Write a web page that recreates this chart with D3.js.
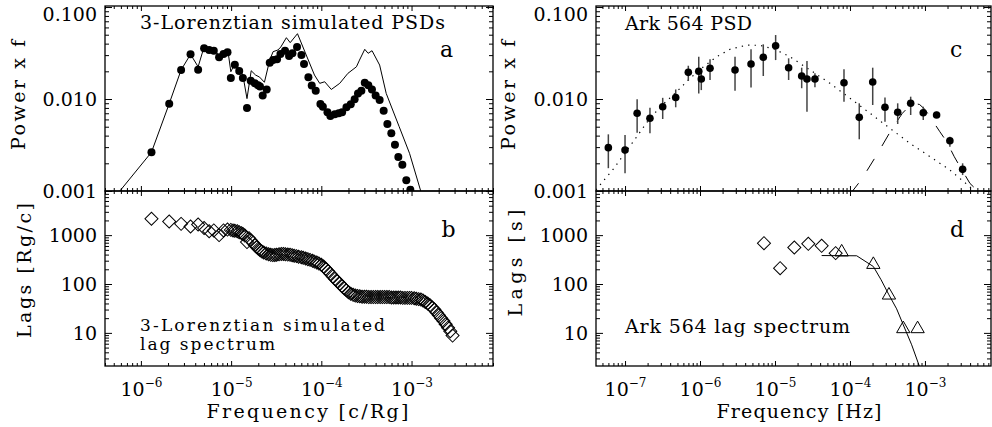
<!DOCTYPE html>
<html>
<head>
<meta charset="utf-8">
<script src="https://cdn.jsdelivr.net/npm/d3@7"></script>
<style>
  body { margin: 0; background: #fff; }
  svg { display: block; }
</style>
</head>
<body>
<svg id="chart" width="992" height="427"></svg>
<script>
// panel a: simulated PSD (dots) and second PSD (thin line)
const simFreq = [1.31e-6, 2.06e-6, 2.79e-6, 3.55e-6, 4.31e-6, 5.02e-6, 5.71e-6, 6.43e-6, 7.36e-6, 8.24e-6,
  9.12e-6, 9.93e-6, 1.10e-5, 1.23e-5, 1.35e-5, 1.50e-5, 1.65e-5, 1.83e-5, 1.99e-5, 2.09e-5,
  2.24e-5, 2.48e-5, 2.68e-5, 2.92e-5, 3.23e-5, 3.52e-5, 3.96e-5, 4.39e-5, 4.78e-5, 5.38e-5,
  6.02e-5, 6.43e-5, 7.19e-5, 7.83e-5, 8.67e-5, 9.77e-5, 1.04e-4, 1.17e-4, 1.26e-4, 1.41e-4,
  1.56e-4, 1.70e-4, 1.90e-4, 2.12e-4, 2.34e-4, 2.55e-4, 2.78e-4, 3.03e-4, 3.32e-4, 3.64e-4,
  4.00e-4, 4.43e-4, 4.91e-4, 5.40e-4, 5.97e-4, 6.55e-4, 7.14e-4, 7.91e-4, 8.75e-4, 9.70e-4];
const simPsd = [0.00264, 0.0089, 0.0207, 0.0306, 0.0208, 0.0356, 0.0341, 0.0335, 0.0284, 0.0308,
  0.0322, 0.0169, 0.0236, 0.0201, 0.0169, 0.00798, 0.0158, 0.0148, 0.0141, 0.0137,
  0.0109, 0.0127, 0.0248, 0.0265, 0.0270, 0.0308, 0.0335, 0.0293, 0.0314, 0.0367,
  0.0301, 0.0240, 0.0172, 0.0140, 0.0123, 0.00883, 0.00825, 0.00717, 0.00653, 0.00682,
  0.00700, 0.00717, 0.00813, 0.00876, 0.00993, 0.0115, 0.0123, 0.0150, 0.0141, 0.0127,
  0.0109, 0.00975, 0.00746, 0.00535, 0.00424, 0.00318, 0.00234, 0.00193, 0.00131, 0.00103];
const simLineFreq = [5.6e-7, 1.31e-6, 2.06e-6, 2.79e-6, 3.55e-6, 4.31e-6, 5.02e-6, 5.71e-6, 6.43e-6, 7.36e-6,
  8.24e-6, 9.2e-6, 9.93e-6, 1.10e-5, 1.23e-5, 1.35e-5, 1.50e-5, 1.67e-5, 1.87e-5, 2.07e-5,
  2.34e-5, 2.68e-5, 2.92e-5, 3.3e-5, 3.55e-5, 4.1e-5, 4.52e-5, 5.44e-5, 6.8e-5, 8.4e-5,
  9.6e-5, 1.09e-4, 1.29e-4, 1.60e-4, 1.97e-4, 2.45e-4, 2.65e-4, 3.03e-4, 3.3e-4, 3.65e-4,
  4.43e-4, 5.24e-4, 7.3e-4, 9.5e-4, 1.28e-3];
const simLinePsd = [0.00095, 0.00264, 0.0089, 0.0207, 0.0306, 0.0224, 0.037, 0.0341, 0.0335, 0.0301,
  0.032, 0.034, 0.0198, 0.0244, 0.0212, 0.0182, 0.0101, 0.0203, 0.0182, 0.0173,
  0.0152, 0.0265, 0.0327, 0.0341, 0.0367, 0.0464, 0.041, 0.0513, 0.0301, 0.0182,
  0.0148, 0.0154, 0.0127, 0.0148, 0.019, 0.0224, 0.0265, 0.0347, 0.0314, 0.0335,
  0.0234, 0.0115, 0.005, 0.00257, 0.00096];

// panel b: simulated lag spectrum
const simLagFreq = [1.31e-6, 2.06e-6, 2.79e-6, 3.55e-6, 4.31e-6, 5.02e-6, 5.71e-6, 6.43e-6, 7.36e-6, 8.24e-6,
  9.12e-6, 9.93e-6, 1.05e-5, 1.10e-5, 1.17e-5, 1.23e-5, 1.30e-5, 1.35e-5, 1.42e-5, 1.50e-5,
  1.58e-5, 1.65e-5, 1.75e-5, 1.83e-5, 1.92e-5, 2.0e-5, 2.1e-5, 2.2e-5, 2.3e-5, 2.45e-5,
  2.6e-5, 2.75e-5, 2.9e-5, 3.05e-5, 3.2e-5, 3.4e-5, 3.6e-5, 3.8e-5, 4.0e-5, 4.25e-5,
  4.5e-5, 4.75e-5, 5.0e-5, 5.3e-5, 5.6e-5, 6.0e-5, 6.3e-5, 6.7e-5, 7.1e-5, 7.5e-5,
  8.0e-5, 8.4e-5, 8.9e-5, 9.4e-5, 1.0e-4, 1.06e-4, 1.12e-4, 1.19e-4, 1.26e-4, 1.34e-4,
  1.42e-4, 1.5e-4, 1.6e-4, 1.7e-4, 1.8e-4, 1.9e-4, 2.0e-4, 2.12e-4, 2.25e-4, 2.38e-4,
  2.52e-4, 2.67e-4, 2.83e-4, 3.0e-4, 3.17e-4, 3.36e-4, 3.56e-4, 3.77e-4, 4.0e-4, 4.23e-4,
  4.49e-4, 4.75e-4, 5.03e-4, 5.33e-4, 5.65e-4, 5.99e-4, 6.34e-4, 6.72e-4, 7.12e-4, 7.54e-4,
  7.99e-4, 8.46e-4, 8.97e-4, 9.5e-4, 1.0e-3, 1.07e-3, 1.13e-3, 1.2e-3, 1.27e-3, 1.34e-3,
  1.42e-3, 1.51e-3, 1.6e-3, 1.69e-3, 1.79e-3, 1.9e-3, 2.01e-3, 2.13e-3, 2.26e-3, 2.39e-3,
  2.54e-3, 2.69e-3, 2.85e-3];
const simLag = [2160, 1900, 1700, 1500, 1650, 1400, 1200, 1250, 1000, 1250,
  1300, 1280, 1250, 1230, 1200, 1150, 1100, 1050, 980, 720,
  860, 790, 700, 630, 570, 530, 490, 460, 440, 420,
  405, 395, 390, 392, 398, 405, 410, 410, 405, 400,
  395, 388, 380, 372, 362, 352, 343, 333, 322, 312,
  298, 287, 275, 262, 248, 228, 205, 182, 162, 143,
  127, 114, 102, 90, 81, 74, 68, 63, 60, 58,
  57, 56, 55, 55, 55, 54, 54, 54, 54, 54,
  54, 54, 54, 54, 54, 53, 53, 53, 53, 53,
  52, 52, 52, 52, 52, 51, 50, 49, 48, 46,
  43, 40, 37, 33, 30, 26, 23, 20, 17.5, 15,
  12.8, 10.8, 8.8];

// panel c: Ark 564 PSD with error bars and model components
const arkFreq = [5.99e-8, 1.0e-7, 1.45e-7, 2.15e-7, 3.18e-7, 4.74e-7, 6.98e-7, 9.62e-7, 1.04e-6, 1.36e-6,
  2.93e-6, 4.79e-6, 6.98e-6, 1.02e-5, 1.52e-5, 2.27e-5, 2.67e-5, 3.41e-5, 8.32e-5, 1.33e-4,
  2.01e-4, 2.93e-4, 4.33e-4, 6.45e-4, 9.49e-4, 1.43e-3, 2.15e-3, 3.18e-3];
const arkPsd = [0.00296, 0.00279, 0.0070, 0.00617, 0.00825, 0.0104, 0.0195, 0.020, 0.0165, 0.0216,
  0.0207, 0.024, 0.0284, 0.038, 0.0219, 0.0178, 0.0165, 0.0165, 0.015, 0.00632,
  0.0153, 0.00813, 0.00717, 0.00898, 0.0071, 0.0067, 0.00352, 0.00172];
const arkPsdLo = [0.00177, 0.00156, 0.0043, 0.00424, 0.00606, 0.00813, 0.0157, 0.0115, 0.0125, 0.0161,
  0.0123, 0.0133, 0.0178, 0.0265, 0.0161, 0.0131, 0.00728, 0.0134, 0.00935, 0.00365,
  0.00861, 0.00566, 0.00535, 0.0067, 0.00591, 0.00632, 0.00303, 0.00149];
const arkPsdHi = [0.00413, 0.00406, 0.00993, 0.00804, 0.0103, 0.0127, 0.023, 0.0288, 0.021, 0.027,
  0.0288, 0.0347, 0.0393, 0.0496, 0.0277, 0.0219, 0.0259, 0.019, 0.021, 0.00898,
  0.0219, 0.0104, 0.00898, 0.0106, 0.00825, 0.00728, 0.00389, 0.002];
const broadFreq = [4.1e-8, 4.89e-8, 7.13e-8, 1.0e-7, 1.5e-7, 2.15e-7, 3.24e-7, 4.89e-7, 7.36e-7, 1.11e-6,
  1.67e-6, 2.51e-6, 4.19e-6, 6.31e-6, 1.0e-5, 1.58e-5, 2.93e-5, 5.41e-5, 1.0e-4, 1.85e-4,
  3.41e-4, 6.31e-4, 1.17e-3, 2.15e-3, 3.98e-3, 5.0e-3];
const broadPsd = [0.00103, 0.00123, 0.00177, 0.0026, 0.0041, 0.0062, 0.0088, 0.012, 0.0168, 0.0224,
  0.0288, 0.0347, 0.0386, 0.0383, 0.0347, 0.0288, 0.0207, 0.0148, 0.0102, 0.0070,
  0.0048, 0.0033, 0.00236, 0.00169, 0.00111, 0.00090];
const peakFreq = [1.0e-4, 1.43e-4, 2.27e-4, 3.6e-4, 5.0e-4, 6.3e-4, 7.2e-4, 8.5e-4, 1.0e-3, 1.2e-3,
  1.58e-3, 1.95e-3, 2.46e-3, 2.93e-3, 3.98e-3, 4.88e-3, 5.5e-3];
const peakPsd = [0.00092, 0.00134, 0.00246, 0.00469, 0.0070, 0.0085, 0.0090, 0.0087, 0.0077, 0.0062,
  0.00441, 0.00344, 0.00236, 0.00184, 0.00121, 0.00103, 0.00090];

// panel d: Ark 564 lag spectrum
const arkLagDiamFreq = [7.13e-6, 1.17e-5, 1.81e-5, 2.78e-5, 4.19e-5, 6.44e-5];
const arkLagDiam = [685, 211, 557, 664, 604, 428];
const arkLagTriFreq = [7.75e-5, 2.05e-4, 3.31e-4, 5.14e-4, 7.98e-4];
const arkLagTri = [450, 250, 59, 12.1, 12.1];
const lagModelFreq = [4.19e-5, 1.23e-4, 2.05e-4, 2.6e-4, 3.31e-4, 4.19e-4, 5.14e-4, 6.65e-4, 8.5e-4];
const lagModel = [382, 378, 228, 122, 60, 31, 14.6, 5.7, 2.0];

// axis ticks
const psdTicks = [0.001, 0.01, 0.1];
const psdTickLabels = ["0.001", "0.010", "0.100"];
const lagTicks = [10, 100, 1000];
const lagTickLabels = ["10", "100", "1000"];
const simFreqTicks = [1e-6, 1e-5, 1e-4, 1e-3];
const simFreqExp = ["\u22126", "\u22125", "\u22124", "\u22123"];
const arkFreqTicks = [1e-7, 1e-6, 1e-5, 1e-4, 1e-3];
const arkFreqExp = ["\u22127", "\u22126", "\u22125", "\u22124", "\u22123"];

const font = "DejaVu Serif";
const svg = d3.select("#chart");

const xSim = d3.scaleLog().domain([4e-7, 8e-3]).range([105, 493]);
const xArk = d3.scaleLog().domain([4.1e-8, 7.6e-3]).range([596, 991]);
const yPsd = d3.scaleLog().domain([0.001, 0.1026]).range([191, 6]);
const yLag = d3.scaleLog().domain([2.1, 8000]).range([366, 191]);

const minorTicks = s => s.ticks().filter(v => Math.abs(Math.log10(v) - Math.round(Math.log10(v))) > 1e-6);

function ticks(axis, tr, major, minor, len) {
  svg.append("g").attr("transform", tr)
    .call(axis.tickValues(minor).tickSize(-len[1]).tickFormat(() => ""))
    .call(g => g.select(".domain").remove());
  return svg.append("g").attr("transform", tr)
    .call(axis.tickValues(major).tickSize(-len[0]).tickPadding(8).tickFormat(() => ""))
    .attr("font-family", font).attr("font-size", 19)
    .call(g => g.select(".domain").remove());
}

function panel(id, xs, ys, o) {
  const [x0, x1] = xs.range();
  const [y1, y0] = ys.range();
  svg.append("clipPath").attr("id", id).append("rect")
    .attr("x", x0).attr("y", y0).attr("width", x1 - x0).attr("height", y1 - y0);

  const gl = ticks(d3.axisLeft(ys), `translate(${x0},0)`, o.yMajor, minorTicks(ys), [7, 4]);
  ticks(d3.axisRight(ys), `translate(${x1},0)`, o.yMajor, minorTicks(ys), [7, 4]);
  ticks(d3.axisTop(xs), `translate(0,${y0})`, o.xMajor, minorTicks(xs), [5, 3]);
  const gb = ticks(d3.axisBottom(xs), `translate(0,${y1})`, o.xMajor, minorTicks(xs), [5, 3]);

  gl.selectAll(".tick text")
    .text((d, i) => o.yLabels[i])
    .attr("x", -8).attr("dy", "0.36em")
    .attr("y", d => Math.max(0, y0 + 8 - ys(d)));

  if (o.xExp) {
    gb.selectAll(".tick text")
      .text(null).attr("y", 30).attr("dy", null)
      .each(function (d, i) {
        const t = d3.select(this);
        t.append("tspan").text("10");
        t.append("tspan").attr("dy", -9).attr("font-size", 12).text(o.xExp[i]);
      });
  }

  svg.append("rect")
    .attr("x", x0).attr("y", y0).attr("width", x1 - x0).attr("height", y1 - y0)
    .attr("fill", "none").attr("stroke", "#000").attr("stroke-width", 1.3);

  return svg.append("g").attr("clip-path", `url(#${id})`);
}

function label(txt, x, y, opts = {}) {
  const t = svg.append("text")
    .attr("x", x).attr("y", y)
    .attr("font-family", font)
    .attr("font-size", opts.size || 19)
    .attr("text-anchor", opts.anchor || "start")
    .text(txt);
  if (opts.len) t.attr("textLength", opts.len).attr("lengthAdjust", "spacing");
  if (opts.rotate) t.attr("transform", `rotate(-90,${x},${y})`);
  return t;
}

const line = (xs, ys) => d3.line().x(d => xs(d[0])).y(d => ys(d[1]));
const diamond = d3.symbol(d3.symbolSquare, 85);
const triangle = d3.symbol(d3.symbolTriangle, 77);

// ---- panel a
const ga = panel("clipA", xSim, yPsd, { yMajor: psdTicks, yLabels: psdTickLabels, xMajor: simFreqTicks });
ga.append("path")
  .datum(d3.zip(simLineFreq, simLinePsd))
  .attr("d", line(xSim, yPsd))
  .attr("fill", "none").attr("stroke", "#000").attr("stroke-width", 1);
ga.selectAll("circle")
  .data(d3.zip(simFreq, simPsd))
  .join("circle")
  .attr("cx", d => xSim(d[0])).attr("cy", d => yPsd(d[1]))
  .attr("r", 4).attr("fill", "#000");

// ---- panel b
const gbp = panel("clipB", xSim, yLag, { yMajor: lagTicks, yLabels: lagTickLabels, xMajor: simFreqTicks, xExp: simFreqExp });
gbp.selectAll("path")
  .data(d3.zip(simLagFreq, simLag))
  .join("path")
  .attr("d", diamond)
  .attr("transform", d => `translate(${xSim(d[0])},${yLag(d[1])}) rotate(45)`)
  .attr("fill", "none").attr("stroke", "#000").attr("stroke-width", 1);

// ---- panel c
const gc = panel("clipC", xArk, yPsd, { yMajor: psdTicks, yLabels: psdTickLabels, xMajor: arkFreqTicks });
gc.append("path")
  .datum(d3.zip(broadFreq, broadPsd))
  .attr("d", line(xArk, yPsd))
  .attr("fill", "none").attr("stroke", "#000").attr("stroke-width", 1.2)
  .attr("stroke-dasharray", "1.3,5.2");
gc.append("path")
  .datum(d3.zip(peakFreq, peakPsd))
  .attr("d", line(xArk, yPsd))
  .attr("fill", "none").attr("stroke", "#000").attr("stroke-width", 1)
  .attr("stroke-dasharray", "14,15");
gc.selectAll("line.err")
  .data(d3.zip(arkFreq, arkPsdLo, arkPsdHi))
  .join("line").attr("class", "err")
  .attr("x1", d => xArk(d[0])).attr("x2", d => xArk(d[0]))
  .attr("y1", d => yPsd(d[1])).attr("y2", d => yPsd(d[2]))
  .attr("stroke", "#444").attr("stroke-width", 1.5);
gc.selectAll("circle")
  .data(d3.zip(arkFreq, arkPsd))
  .join("circle")
  .attr("cx", d => xArk(d[0])).attr("cy", d => yPsd(d[1]))
  .attr("r", 3.8).attr("fill", "#000");

// ---- panel d
const gd = panel("clipD", xArk, yLag, { yMajor: lagTicks, yLabels: lagTickLabels, xMajor: arkFreqTicks, xExp: arkFreqExp });
gd.append("path")
  .datum(d3.zip(lagModelFreq, lagModel))
  .attr("d", line(xArk, yLag))
  .attr("fill", "none").attr("stroke", "#000").attr("stroke-width", 1);
gd.selectAll("path.dia")
  .data(d3.zip(arkLagDiamFreq, arkLagDiam))
  .join("path").attr("class", "dia")
  .attr("d", diamond)
  .attr("transform", d => `translate(${xArk(d[0])},${yLag(d[1])}) rotate(45)`)
  .attr("fill", "none").attr("stroke", "#000").attr("stroke-width", 1);
gd.selectAll("path.tri")
  .data(d3.zip(arkLagTriFreq, arkLagTri))
  .join("path").attr("class", "tri")
  .attr("d", triangle)
  .attr("transform", d => `translate(${xArk(d[0])},${yLag(d[1])})`)
  .attr("fill", "none").attr("stroke", "#000").attr("stroke-width", 1);

// ---- texts
label("3-Lorenztian simulated PSDs", 140, 29, { len: 305 });
label("Ark 564 PSD", 625, 29.5, { len: 127 });
label("3-Lorenztian simulated", 140, 330.5, { len: 245, size: 17 });
label("lag spectrum", 140, 350, { len: 135, size: 17 });
label("Ark 564 lag spectrum", 625, 333, { len: 225 });
label("a", 440, 57, { size: 22 });
label("b", 441.5, 236.7, { size: 22 });
label("c", 950, 57, { size: 22 });
label("d", 950, 236.7, { size: 22 });

label("Frequency [c/Rg]", 307.5, 418, { anchor: "middle", len: 202 });
label("Frequency [Hz]", 799, 418, { anchor: "middle", len: 165 });
label("Power x f", 25, 95, { anchor: "middle", len: 110, rotate: true });
label("Lags [Rg/c]", 30.7, 270.5, { anchor: "middle", len: 135, rotate: true });
label("Power x f", 515, 95, { anchor: "middle", len: 110, rotate: true });
label("Lags [s]", 521.7, 263, { anchor: "middle", len: 107, rotate: true });
</script>
</body>
</html>
